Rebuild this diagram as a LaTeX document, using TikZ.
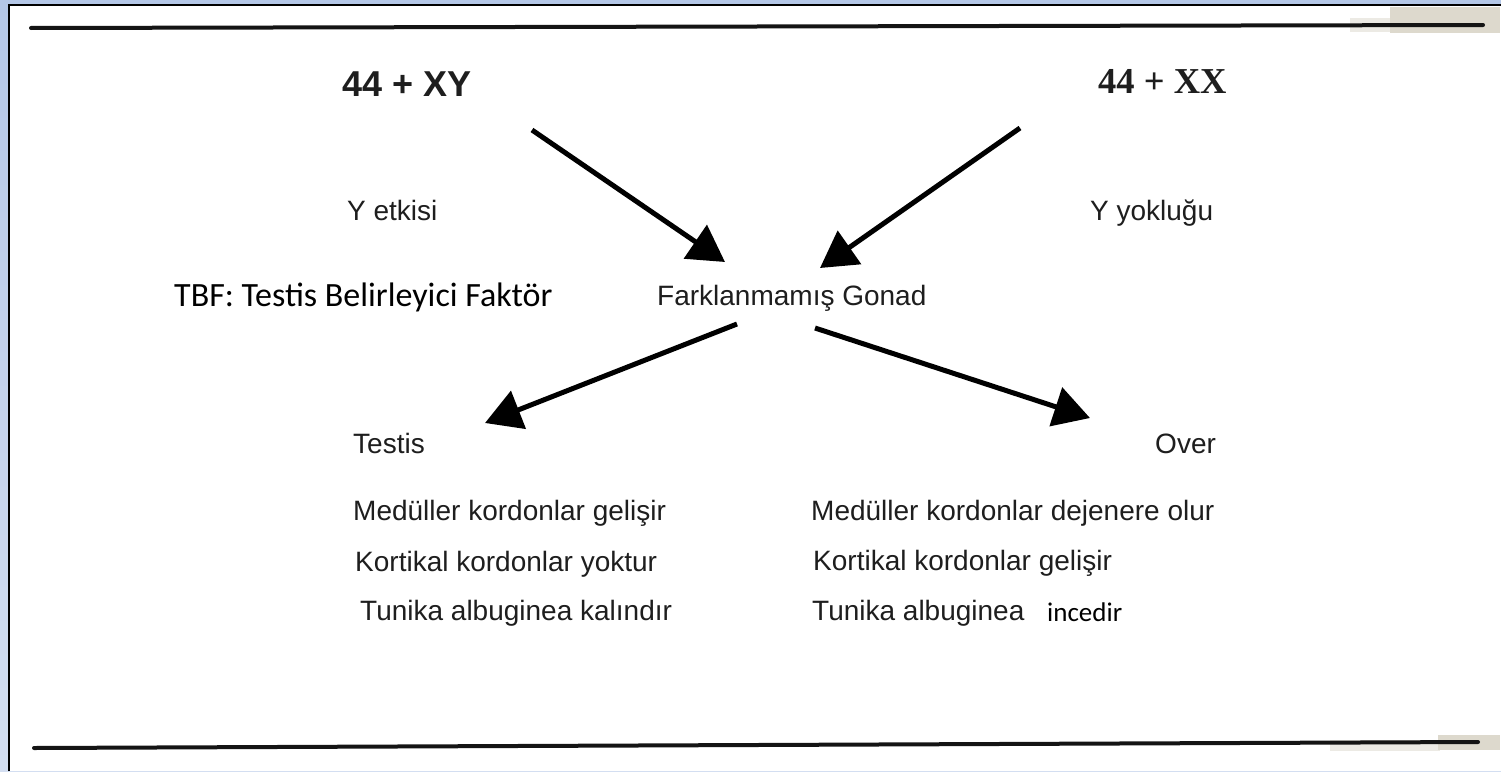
\documentclass[tikz,border=0pt]{standalone}
\usepackage{fontspec}
\setmainfont{Liberation Sans}
\newfontfamily\timesfont{Liberation Serif}
\newfontfamily\calfont{Carlito}
\usetikzlibrary{arrows.meta}
\definecolor{frameblueT}{HTML}{B4C7E7}
\definecolor{frameblueB}{HTML}{D3DEF1}
\definecolor{scan}{HTML}{1E1E1E}
\definecolor{smudge}{HTML}{DDD9CD}
\definecolor{smudgelight}{HTML}{ECEAE4}
\tikzset{
  scantext/.style={text=scan, inner sep=0pt, anchor=base west, font=\fontsize{28}{32}\selectfont},
  caltext/.style={text=black, inner sep=0pt, anchor=base west, font=\calfont\fontsize{27}{30}\selectfont},
  bigarrow/.style={draw=black, line width=5pt, -{Triangle[length=36pt,width=40pt]}},
  rule/.style={draw=black!92, line width=4pt, line cap=round}
}
\begin{document}
\begin{tikzpicture}[x=1pt,y=-1pt]
\useasboundingbox (0,0) rectangle (1501,771);
% frame
\shade[top color=frameblueT, bottom color=frameblueB] (0,0) rectangle (1501,771);
\fill[white] (8,4) rectangle (1501,771);
\draw[line width=2.2pt] (9,771) -- (9,5) -- (1501,5);
% scan smudges
\fill[smudgelight] (1350,18) rectangle (1392,32);
\fill[smudge] (1390,7) rectangle (1500,33);
\fill[smudgelight] (1330,740) rectangle (1440,751);
\fill[smudge] (1438,735) rectangle (1500,750);
% rules
\coordinate (rtl) at (31,28);
\coordinate (rtr) at (1483,25);
\coordinate (rbl) at (34,748);
\coordinate (rbr) at (1478,742);
\draw[rule] (rtl) -- (rtr);
\draw[rule] (rbl) -- (rbr);
% texts
\node[text=scan, inner sep=0pt, anchor=base west, font=\bfseries\fontsize{36}{40}\selectfont] (xy) at (342,96) {44 + XY};
\node[text=scan, inner sep=0pt, anchor=base west, font=\timesfont\bfseries\fontsize{36.5}{40}\selectfont] (xx) at (1098,93) {44 + XX};
\node[scantext] (yet) at (347,220) {Y etkisi};
\node[scantext] (yyok) at (1090,220) {Y yokluğu};
\node[caltext, font=\calfont\fontsize{34}{38}\selectfont] (tbf) at (174,306) {TBF: Testis Belirleyici Faktör};
\node[scantext] (gonad) at (657,305) {Farklanmamış Gonad};
\node[scantext] (testis) at (353,453) {Testis};
\node[scantext] (over) at (1155,453) {Over};
\node[scantext] (l1) at (353,520) {Medüller kordonlar gelişir};
\node[scantext] (l2) at (355,571) {Kortikal kordonlar yoktur};
\node[scantext] (l3) at (360,620) {Tunika albuginea kalındır};
\node[scantext] (r1) at (811,520) {Medüller kordonlar dejenere olur};
\node[scantext] (r2) at (813,570) {Kortikal kordonlar gelişir};
\node[scantext] (r3) at (812,620) {Tunika albuginea};
\node[caltext] (r3b) at (1047,621) {incedir};
% arrow end points
\coordinate (xyout) at (532,130);
\coordinate (gin1) at (725,262);
\coordinate (xxout) at (1020,128);
\coordinate (gin2) at (820,268);
\coordinate (gout1) at (737,324);
\coordinate (tin) at (485,423);
\coordinate (gout2) at (815,328);
\coordinate (oin) at (1090,418);
\draw[bigarrow] (xyout) -- (gin1);
\draw[bigarrow] (xxout) -- (gin2);
\draw[bigarrow] (gout1) -- (tin);
\draw[bigarrow] (gout2) -- (oin);
\end{tikzpicture}
\end{document}
